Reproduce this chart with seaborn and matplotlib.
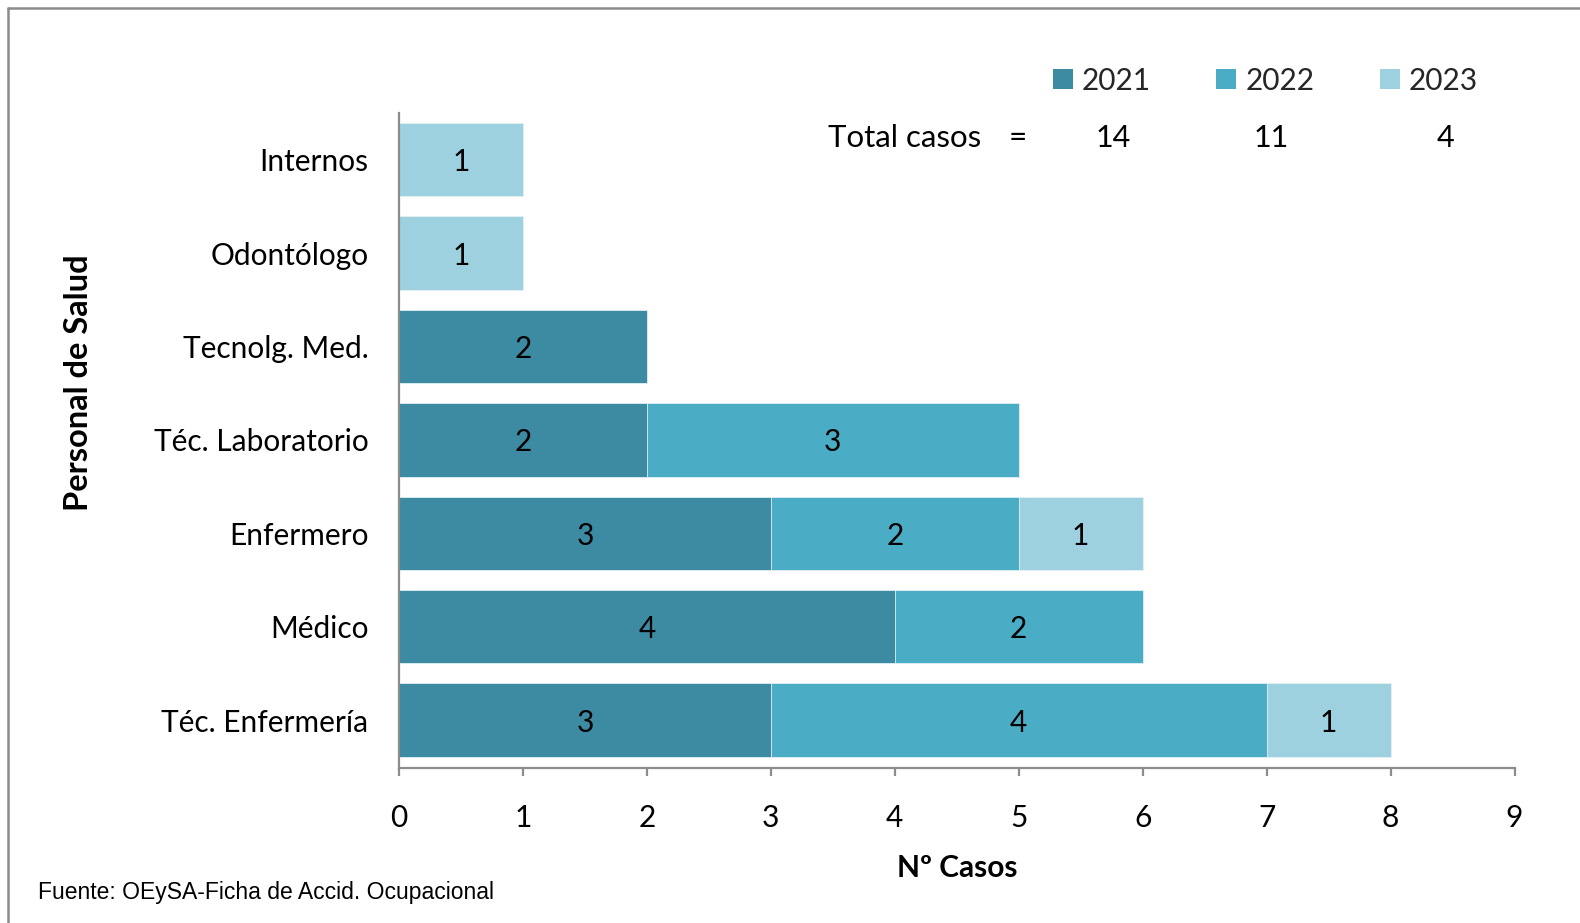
import matplotlib
matplotlib.use("Agg")
import matplotlib.pyplot as plt
from matplotlib.patches import Patch
from matplotlib.lines import Line2D
import seaborn as sns
import numpy as np
import pandas as pd

# Data: occupational accident cases among health personnel
categories = ["Internos", "Odontólogo", "Tecnolg. Med.", "Téc. Laboratorio",
              "Enfermero", "Médico", "Téc. Enfermería"]
years = ["2021", "2022", "2023"]
cases_2021 = [0, 0, 2, 2, 3, 4, 3]
cases_2022 = [0, 0, 0, 3, 2, 2, 4]
cases_2023 = [1, 1, 0, 0, 1, 0, 1]
x_ticks = list(range(0, 10))

colors = ["#3D8BA3", "#4BACC6", "#9DD1E0"]

sns.set_theme(style="white")
plt.rcParams["font.family"] = ["Lato", "DejaVu Sans"]

# layout grid in a 1568 x 916 frame
GW, GH = 1568.0, 916.0


def fx(px):
    return px / GW


def fy(py):
    return 1 - py / GH


fig = plt.figure(figsize=(15.8, 9.23), dpi=100)
ax_left, ax_right, ax_top, ax_bottom = 396, 1503, 112, 762
ax = fig.add_axes([fx(ax_left), fy(ax_bottom), fx(ax_right) - fx(ax_left),
                   fy(ax_top) - fy(ax_bottom)])

df = pd.DataFrame({"cat": categories, "2021": cases_2021,
                   "2022": cases_2022, "2023": cases_2023})
series = [df["2021"].to_numpy(), df["2022"].to_numpy(), df["2023"].to_numpy()]
cum = np.cumsum(np.vstack(series), axis=0)

# Stacked horizontal bars: draw cumulative totals from the back to the front
for i in [2, 1, 0]:
    sns.barplot(x=cum[i], y=df["cat"], order=categories, orient="h",
                color=colors[i], saturation=1, width=0.785,
                edgecolor="#E3F1F6", linewidth=0.6, ax=ax)

# Segment value labels
for i, vals in enumerate(series):
    start = cum[i] - vals
    for j, v in enumerate(vals):
        if v > 0:
            ax.text(start[j] + v / 2, j, f"{v}", ha="center",
                    va="center_baseline", fontsize=21.5, color="black")

ax.set_xlim(0, 9)
ax.set_ylim(6.51, -0.5)
ax.set_xticks(x_ticks)
ax.set_xticklabels([str(t) for t in x_ticks])

for s in ["top", "right"]:
    ax.spines[s].set_visible(False)
for s in ["left", "bottom"]:
    ax.spines[s].set_color("#8C8C8C")
    ax.spines[s].set_linewidth(1.6)

ax.tick_params(axis="x", which="major", bottom=True, direction="out",
               length=6, width=1.6, color="#8C8C8C", labelsize=21.5, pad=20,
               labelcolor="black")
ax.tick_params(axis="y", left=False, length=0, labelsize=21.5, pad=22,
               labelcolor="black")

ax_h = ax_bottom - ax_top
ax_w = ax_right - ax_left
ax.set_xlabel("Nº Casos", fontsize=21.5, fontweight="bold", color="black")
ax.xaxis.set_label_coords(0.5, (ax_bottom - 861) / ax_h)
ax.xaxis.label.set_va("center")
ax.set_ylabel("Personal de Salud", fontsize=23.5, fontweight="bold", color="black")
ax.yaxis.set_label_coords((78 - ax_left) / ax_w, (ax_bottom - 380) / ax_h)
ax.yaxis.label.set_va("center")

# Legend with year swatches
handles = [Patch(facecolor=c, edgecolor="none") for c in colors]
fig.legend(handles, years, loc="center left", ncol=3, frameon=False,
           bbox_to_anchor=(fx(1045), fy(80)), fontsize=21.5,
           handlelength=0.66, handleheight=0.66, handletextpad=0.3,
           columnspacing=2.2, borderpad=0, borderaxespad=0)

# Totals per year
totals = [int(s.sum()) for s in series]
fig.text(fx(822), fy(137), "Total casos", fontsize=22.5,
         ha="left", va="center", color="black")
fig.text(fx(1010), fy(137), "=", fontsize=22.5,
         ha="center", va="center", color="black")
for xc, t in zip([1105, 1262, 1434], totals):
    fig.text(fx(xc), fy(137), str(t), fontsize=22, ha="center",
             va="center", color="black")

# Source note
fig.text(fx(38), fy(886), "Fuente: OEySA-Ficha de Accid. Ocupacional",
         fontsize=16.5, ha="left", va="center", color="black",
         family=["Liberation Sans", "DejaVu Sans"])

# Outer frame (top and left edges)
fig.add_artist(Line2D([fx(8), fx(8)], [0, fy(8)], transform=fig.transFigure,
                      color="#8C8C8C", linewidth=1.8))
fig.add_artist(Line2D([fx(8), 1], [fy(8), fy(8)], transform=fig.transFigure,
                      color="#8C8C8C", linewidth=1.8))

fig.savefig("out.png", dpi=100, facecolor="white")
